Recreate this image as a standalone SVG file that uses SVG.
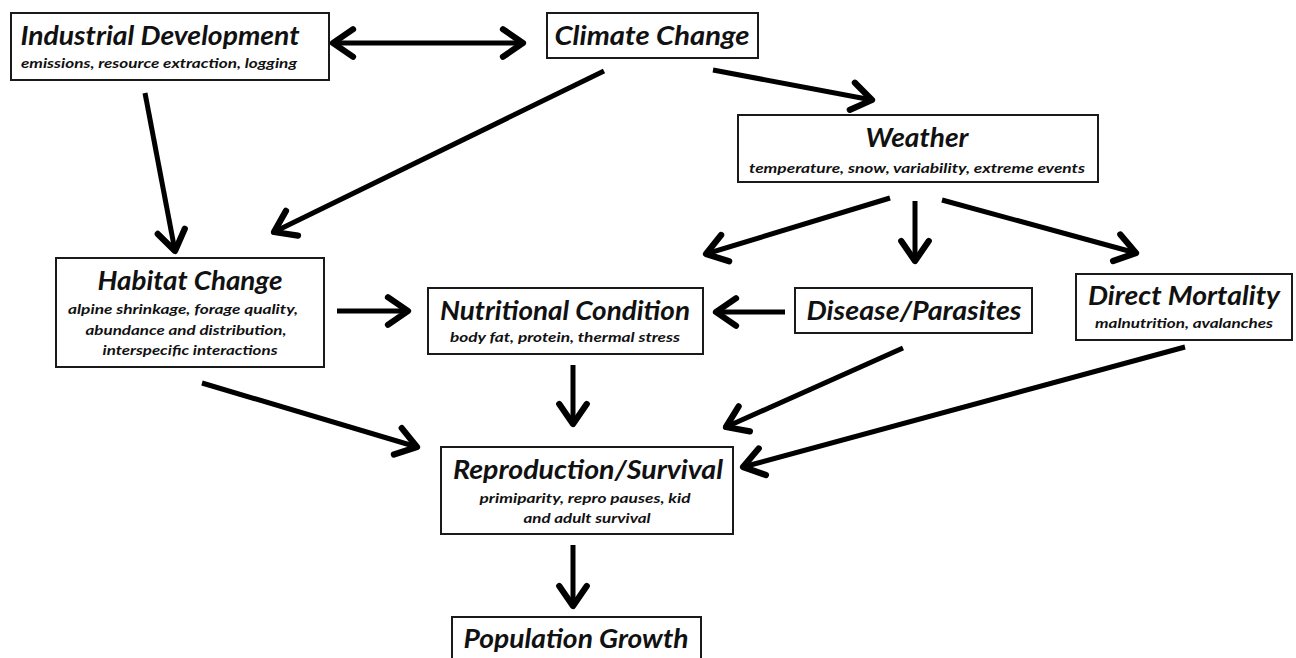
<svg xmlns="http://www.w3.org/2000/svg" width="1296" height="658" viewBox="0 0 1296 658">
<style>
.box{fill:#fff;stroke:#1a1a1a;stroke-width:2}
.t{font-family:Lato,"Open Sans","Liberation Sans",sans-serif;font-weight:bold;font-style:italic;font-size:27px;fill:#111;text-anchor:middle}
.s{font-family:Lato,"Open Sans","Liberation Sans",sans-serif;font-weight:bold;font-style:italic;font-size:14px;fill:#111;text-anchor:middle}
.c line{stroke:#000;stroke-width:5;marker-end:url(#ah)}
</style>
<defs>
<marker id="ah" markerUnits="userSpaceOnUse" orient="auto-start-reverse" markerWidth="40" markerHeight="40" refX="0" refY="0" viewBox="-22 -16 28 32" overflow="visible">
<path d="M-16,-11 L0,0 L-16,11" fill="none" stroke="#000" stroke-width="5" stroke-linecap="round" stroke-linejoin="round"/>
</marker>
</defs>
<rect width="1296" height="658" fill="#fff"/>
<g class="c" id="connectors">
<line x1="333" y1="43" x2="523" y2="43" style="marker-start:url(#ah)"/>
<line x1="145" y1="93" x2="175" y2="251"/>
<line x1="604" y1="71" x2="274" y2="232"/>
<line x1="713" y1="70" x2="872" y2="100"/>
<line x1="890" y1="198" x2="706" y2="254"/>
<line x1="915" y1="201" x2="915" y2="261"/>
<line x1="942" y1="200" x2="1136" y2="253"/>
<line x1="337" y1="311" x2="408" y2="311"/>
<line x1="785" y1="312" x2="716" y2="312"/>
<line x1="573" y1="365" x2="573" y2="424"/>
<line x1="202" y1="383" x2="417" y2="447"/>
<line x1="903" y1="348" x2="726" y2="427"/>
<line x1="1185" y1="347" x2="743" y2="467"/>
<line x1="573" y1="545" x2="573" y2="606"/>
</g>
<g id="industrial">
<rect class="box" x="11" y="13" width="318" height="67"/>
<text class="t" x="160" y="45" textLength="279" lengthAdjust="spacingAndGlyphs">Industrial Development</text>
<text class="s" x="159" y="68" textLength="276" lengthAdjust="spacingAndGlyphs">emissions, resource extraction, logging</text>
</g>
<g id="climate">
<rect class="box" x="547" y="13" width="211" height="45"/>
<text class="t" x="652" y="45" textLength="195" lengthAdjust="spacingAndGlyphs">Climate Change</text>
</g>
<g id="weather">
<rect class="box" x="738" y="115" width="360" height="67"/>
<text class="t" x="917" y="147" textLength="103" lengthAdjust="spacingAndGlyphs">Weather</text>
<text class="s" x="917" y="173" textLength="336" lengthAdjust="spacingAndGlyphs">temperature, snow,  variability, extreme events</text>
</g>
<g id="habitat">
<rect class="box" x="56" y="258" width="268" height="109"/>
<text class="t" x="190" y="290" textLength="185" lengthAdjust="spacingAndGlyphs">Habitat Change</text>
<text class="s" x="183" y="314" textLength="230" lengthAdjust="spacingAndGlyphs">alpine shrinkage, forage quality,</text>
<text class="s" x="186" y="335" textLength="201" lengthAdjust="spacingAndGlyphs">abundance  and distribution,</text>
<text class="s" x="190" y="355" textLength="175" lengthAdjust="spacingAndGlyphs">interspecific interactions</text>
</g>
<g id="nutritional">
<rect class="box" x="428" y="288" width="275" height="66"/>
<text class="t" x="565" y="320" textLength="250" lengthAdjust="spacingAndGlyphs">Nutritional Condition</text>
<text class="s" x="565" y="342" textLength="230" lengthAdjust="spacingAndGlyphs">body fat, protein,  thermal stress</text>
</g>
<g id="disease">
<rect class="box" x="795" y="288" width="237" height="45"/>
<text class="t" x="914" y="320" textLength="215" lengthAdjust="spacingAndGlyphs">Disease/Parasites</text>
</g>
<g id="mortality">
<rect class="box" x="1076" y="274" width="216" height="66"/>
<text class="t" x="1184" y="305" textLength="192" lengthAdjust="spacingAndGlyphs">Direct Mortality</text>
<text class="s" x="1184" y="328" textLength="178" lengthAdjust="spacingAndGlyphs">malnutrition, avalanches</text>
</g>
<g id="reproduction">
<rect class="box" x="441" y="447" width="292" height="87"/>
<text class="t" x="588" y="479" textLength="270" lengthAdjust="spacingAndGlyphs">Reproduction/Survival</text>
<text class="s" x="585" y="503" textLength="211" lengthAdjust="spacingAndGlyphs">primiparity, repro pauses, kid</text>
<text class="s" x="587" y="523" textLength="127" lengthAdjust="spacingAndGlyphs">and adult survival</text>
</g>
<g id="population">
<rect class="box" x="452" y="617" width="249" height="60"/>
<text class="t" x="576" y="648" textLength="225" lengthAdjust="spacingAndGlyphs">Population Growth</text>
</g>
</svg>
